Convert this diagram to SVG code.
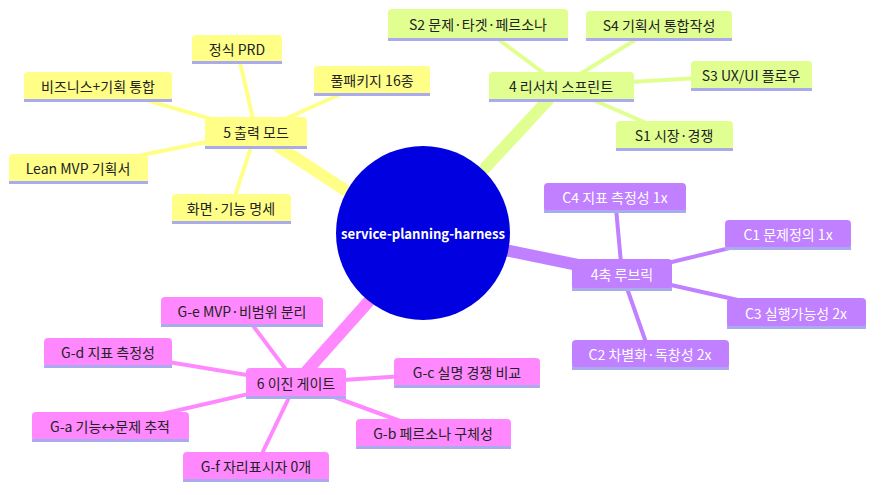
<svg xmlns="http://www.w3.org/2000/svg" width="884" height="495" viewBox="0 0 884 495">
<style>
text{font-family:"Noto Sans CJK KR","Noto Sans",sans-serif;font-size:14px;text-anchor:middle;dominant-baseline:central;fill:#222}
.y rect.b{fill:#ffff88}.g rect.b{fill:#e0ff90}.p rect.b{fill:#c080ff}.k rect.b{fill:#ff88ff}
rect.u{fill:#aaaaee}
.p text{fill:#fff}
.cy{stroke:#ffff88}.cg{stroke:#e0ff90}.cp{stroke:#c080ff}.ck{stroke:#ff88ff}
#connectors line{stroke-linecap:round}
</style>
<rect width="884" height="495" fill="#fff"/>
<g id="connectors" stroke-width="4">
<line class="cy" x1="345" y1="190" x2="256" y2="132" stroke-width="12"/>
<line class="cg" x1="485" y1="168" x2="561" y2="86" stroke-width="12"/>
<line class="cp" x1="505" y1="250" x2="622" y2="274" stroke-width="12"/>
<line class="ck" x1="370" y1="300" x2="296" y2="383" stroke-width="12"/>
<line class="cy" x1="256" y1="132" x2="237" y2="49"/>
<line class="cy" x1="256" y1="132" x2="372" y2="80"/>
<line class="cy" x1="256" y1="132" x2="98" y2="86"/>
<line class="cy" x1="256" y1="132" x2="78" y2="168"/>
<line class="cy" x1="256" y1="132" x2="231" y2="208"/>
<line class="cg" x1="561" y1="86" x2="478" y2="24"/>
<line class="cg" x1="561" y1="86" x2="659" y2="25"/>
<line class="cg" x1="561" y1="86" x2="751" y2="75"/>
<line class="cg" x1="561" y1="86" x2="674" y2="135"/>
<line class="cp" x1="622" y1="274" x2="615" y2="197"/>
<line class="cp" x1="622" y1="274" x2="788" y2="234"/>
<line class="cp" x1="622" y1="274" x2="796" y2="313"/>
<line class="cp" x1="622" y1="274" x2="650" y2="354"/>
<line class="ck" x1="296" y1="383" x2="242" y2="311"/>
<line class="ck" x1="296" y1="383" x2="108" y2="352"/>
<line class="ck" x1="296" y1="383" x2="467" y2="372"/>
<line class="ck" x1="296" y1="383" x2="110" y2="426"/>
<line class="ck" x1="296" y1="383" x2="433" y2="433"/>
<line class="ck" x1="296" y1="383" x2="256" y2="466"/>
</g>
<g id="root"><circle cx="423" cy="233" r="87" fill="#0000e0"/><text x="423" y="233" style="fill:#fff" font-weight="600" font-size="13" textLength="164" lengthAdjust="spacingAndGlyphs">service-planning-harness</text></g>
<g class="y">
<g id="y0"><rect class="b" x="205" y="117" width="102" height="31" rx="4"/><rect class="u" x="205" y="146" width="102" height="3"/><text x="256" y="132">5 출력 모드</text></g>
<g id="y1"><rect class="b" x="192" y="35" width="90" height="28" rx="4"/><rect class="u" x="192" y="61" width="90" height="3"/><text x="237" y="49">정식 PRD</text></g>
<g id="y2"><rect class="b" x="314" y="66" width="116" height="29" rx="4"/><rect class="u" x="314" y="93" width="116" height="3"/><text x="372" y="80">풀패키지 16종</text></g>
<g id="y3"><rect class="b" x="24" y="72" width="148" height="29" rx="4"/><rect class="u" x="24" y="99" width="148" height="3"/><text x="98" y="86">비즈니스+기획 통합</text></g>
<g id="y4"><rect class="b" x="9" y="154" width="139" height="29" rx="4"/><rect class="u" x="9" y="181" width="139" height="3"/><text x="78" y="168">Lean MVP 기획서</text></g>
<g id="y5"><rect class="b" x="172" y="194" width="119" height="29" rx="4"/><rect class="u" x="172" y="221" width="119" height="3"/><text x="231" y="208">화면·기능 명세</text></g>
</g>
<g class="g">
<g id="g0"><rect class="b" x="489" y="72" width="145" height="29" rx="4"/><rect class="u" x="489" y="99" width="145" height="3"/><text x="561" y="86">4 리서치 스프린트</text></g>
<g id="g1"><rect class="b" x="388" y="9" width="180" height="31" rx="4"/><rect class="u" x="388" y="38" width="180" height="3"/><text x="478" y="24">S2 문제·타겟·페르소나</text></g>
<g id="g2"><rect class="b" x="586" y="11" width="146" height="29" rx="4"/><rect class="u" x="586" y="38" width="146" height="3"/><text x="659" y="25">S4 기획서 통합작성</text></g>
<g id="g3"><rect class="b" x="691" y="61" width="121" height="29" rx="4"/><rect class="u" x="691" y="88" width="121" height="3"/><text x="751" y="75">S3 UX/UI 플로우</text></g>
<g id="g4"><rect class="b" x="616" y="121" width="117" height="29" rx="4"/><rect class="u" x="616" y="148" width="117" height="3"/><text x="674" y="135">S1 시장·경쟁</text></g>
</g>
<g class="p">
<g id="p0"><rect class="b" x="572" y="259" width="100" height="31" rx="4"/><rect class="u" x="572" y="288" width="100" height="3"/><text x="622" y="274">4축 루브릭</text></g>
<g id="p1"><rect class="b" x="544" y="183" width="142" height="29" rx="4"/><rect class="u" x="544" y="210" width="142" height="3"/><text x="615" y="197">C4 지표 측정성 1x</text></g>
<g id="p2"><rect class="b" x="725" y="220" width="126" height="29" rx="4"/><rect class="u" x="725" y="247" width="126" height="3"/><text x="788" y="234">C1 문제정의 1x</text></g>
<g id="p3"><rect class="b" x="727" y="298" width="139" height="30" rx="4"/><rect class="u" x="727" y="326" width="139" height="3"/><text x="796" y="313">C3 실행가능성 2x</text></g>
<g id="p4"><rect class="b" x="572" y="340" width="157" height="29" rx="4"/><rect class="u" x="572" y="367" width="157" height="3"/><text x="650" y="354">C2 차별화·독창성 2x</text></g>
</g>
<g class="k">
<g id="k0"><rect class="b" x="246" y="368" width="100" height="30" rx="4"/><rect class="u" x="246" y="396" width="100" height="3"/><text x="296" y="383">6 이진 게이트</text></g>
<g id="k1"><rect class="b" x="161" y="297" width="162" height="29" rx="4"/><rect class="u" x="161" y="324" width="162" height="3"/><text x="242" y="311">G-e MVP·비범위 분리</text></g>
<g id="k2"><rect class="b" x="44" y="338" width="128" height="29" rx="4"/><rect class="u" x="44" y="365" width="128" height="3"/><text x="108" y="352">G-d 지표 측정성</text></g>
<g id="k3"><rect class="b" x="394" y="358" width="146" height="29" rx="4"/><rect class="u" x="394" y="385" width="146" height="3"/><text x="467" y="372">G-c 실명 경쟁 비교</text></g>
<g id="k4"><rect class="b" x="32" y="412" width="157" height="29" rx="4"/><rect class="u" x="32" y="439" width="157" height="3"/><text x="110" y="426">G-a 기능↔문제 추적</text></g>
<g id="k5"><rect class="b" x="356" y="419" width="155" height="29" rx="4"/><rect class="u" x="356" y="446" width="155" height="3"/><text x="433" y="433">G-b 페르소나 구체성</text></g>
<g id="k6"><rect class="b" x="183" y="452" width="146" height="29" rx="4"/><rect class="u" x="183" y="479" width="146" height="3"/><text x="256" y="466">G-f 자리표시자 0개</text></g>
</g>
</svg>
